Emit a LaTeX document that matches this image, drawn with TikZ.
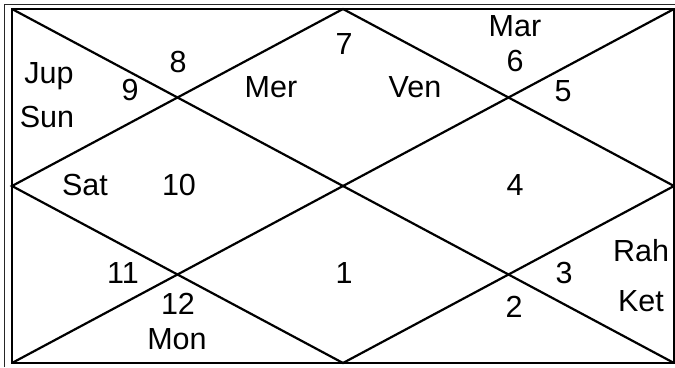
\documentclass[tikz,border=0pt]{standalone}
\usepackage{fontspec}
\setmainfont{Liberation Sans}
\usepackage{tikz}
\usetikzlibrary{positioning, calc}
\tikzset{
    house/.style={font=\fontsize{30.5}{32}\selectfont, anchor=base, inner sep=0pt},
    chartline/.style={line width=2.2pt, line join=miter}
}

\begin{document}
\begin{tikzpicture}[x=1pt, y=-1pt]
    \useasboundingbox (0,0) rectangle (675,367);

    % outer table border
    \draw [line width=1.4pt, black!85] (4.5,367) -- (4.5,4.5) -- (675,4.5);

    % chart corners and midpoints
    \coordinate (tl) at (12,9);
    \coordinate (tr) at (674,9);
    \coordinate (bl) at (12,363);
    \coordinate (br) at (674,363);
    \coordinate (tm) at ($(tl)!0.5!(tr)$);
    \coordinate (bm) at ($(bl)!0.5!(br)$);
    \coordinate (lm) at ($(tl)!0.5!(bl)$);
    \coordinate (rm) at ($(tr)!0.5!(br)$);

    \draw [chartline] (tl) rectangle (br);
    \draw [chartline] (tl) -- (br);
    \draw [chartline] (bl) -- (tr);
    \draw [chartline] (tm) -- (rm) -- (bm) -- (lm) -- cycle;

    % house numbers
    \node (h1)  [house] at (344,283) {1};
    \node (h2)  [house] at (514,317) {2};
    \node (h3)  [house] at (564,283) {3};
    \node (h4)  [house] at (515,195) {4};
    \node (h5)  [house] at (563,101) {5};
    \node (h6)  [house] at (515,71)  {6};
    \node (h7)  [house] at (344,54)  {7};
    \node (h8)  [house] at (178,72)  {8};
    \node (h9)  [house] at (130,100) {9};
    \node (h10) [house] at (179,195) {10};
    \node (h11) [house] at (123,283) {11};
    \node (h12) [house] at (178,314) {12};

    % planets
    \node (jup) [house] at (49,83)   {Jup};
    \node (sun) [house] at (47,127)  {Sun};
    \node (mer) [house] at (271,97)  {Mer};
    \node (ven) [house] at (415,97)  {Ven};
    \node (mar) [house] at (515,36)  {Mar};
    \node (sat) [house] at (85,195)  {Sat};
    \node (mon) [house] at (177,349) {Mon};
    \node (rah) [house] at (641,261) {Rah};
    \node (ket) [house] at (641,311) {Ket};
\end{tikzpicture}
\end{document}
